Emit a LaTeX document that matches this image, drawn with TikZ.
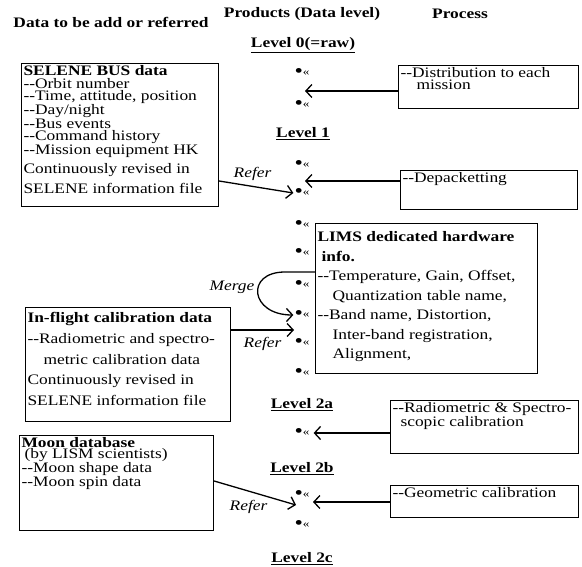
\documentclass[tikz,border=0pt]{standalone}
\usepackage{fontspec}
\setmainfont{Liberation Serif}[FakeStretch=1.2,Ligatures=TeXOff]
\usepackage{tikz}
\usetikzlibrary{arrows.meta,positioning}
\newcommand{\lvdot}{{\fontsize{20}{20}\selectfont•}\raisebox{2pt}{\fontsize{11}{11}\selectfont«}}
\newcommand{\boxtext}[3]{\parbox[t][#2][t]{#1}{\raggedright #3}}

\begin{document}
\begin{tikzpicture}[x=1pt,y=-1pt,line width=1.3pt,
  >={Straight Barb[length=6pt,width=13pt]},
  every node/.style={font=\fontsize{14.5}{19.5}\selectfont},
  box/.style={draw,line width=1.1pt,anchor=north west,inner sep=2pt},
  lv/.style={inner sep=0.5pt},
  level/.style={font=\fontsize{14.5}{19.5}\selectfont\bfseries},
  refer/.style={font=\fontsize{14.5}{19.5}\selectfont\itshape}]
\useasboundingbox (0,0) rectangle (582,567);

% headings
\node[level] (hdata) at (111,22) {Data to be add or referred};
\node[level] (hprod) at (302,14) {Products (Data level)};
\node[level] (hproc) at (460,14) {Process};

% data levels
\node[level] (l0) at (303,45) {\underline{Level 0(=raw)}};
\node[lv] (d0a) at (302,73) {\lvdot};
\node[lv] (d0b) at (302,105) {\lvdot};
\coordinate (t0) at (305,91);

\node[level] (l1) at (303,134) {\underline{Level 1}};
\node[lv] (d1a) at (302,165) {\lvdot};
\node[lv] (d1b) at (302,193) {\lvdot};
\coordinate (t1) at (305,181);

\node[lv] (d2a) at (302,225) {\lvdot};
\node[lv] (d2b) at (302,253) {\lvdot};
\node[lv] (d2c) at (302,285) {\lvdot};
\node[lv] (d2d) at (302,315) {\lvdot};
\node[lv] (d2e) at (302,343) {\lvdot};
\node[lv] (d2f) at (302,373) {\lvdot};
\coordinate (t2) at (294,330);

\node[level] (l2a) at (302,405) {\underline{Level 2a}};
\node[lv] (d3) at (302,433) {\lvdot};

\node[level] (l2b) at (302,469) {\underline{Level 2b}};
\node[lv] (d4a) at (302,495) {\lvdot};
\node[lv] (d4b) at (302,525) {\lvdot};
\coordinate (t4) at (296,505);
\coordinate (t5) at (313,502);

\node[level] (l2c) at (302,559) {\underline{Level 2c}};

% data to be added
\node[box] (selene) at (21,63) {\boxtext{193pt}{139pt}{%
  \setlength{\baselineskip}{12.4pt}\textbf{SELENE BUS data}\par
  --Orbit number\par
  --Time, attitude, position\par
  --Day/night\par
  --Bus events\par
  --Command history\par
  --Mission equipment HK\par
  \setlength{\baselineskip}{19.5pt}Continuously revised in\par
  SELENE information file}};
\node[box] (flight) at (25,307) {\boxtext{201pt}{110pt}{%
  \vspace*{3pt}\setlength{\baselineskip}{20.7pt}\textbf{In-flight calibration data}\par
  --Radiometric and spectro-\par
  \hspace*{16pt}metric calibration data\par
  Continuously revised in\par
  SELENE information file}};
\node[box] (moon) at (19,435) {\boxtext{190pt}{91pt}{%
  \setlength{\baselineskip}{10.5pt}\textbf{Moon database}\par
  \hspace*{3pt}(by LISM scientists)\par
  --Moon shape data\par
  --Moon spin data}};

% process
\node[box] (dist) at (398,65) {\boxtext{176pt}{39pt}{%
  \setlength{\baselineskip}{12pt}--Distribution to each\par
  \hspace*{16pt}mission}};
\node[box] (depack) at (400,170) {\boxtext{173pt}{35pt}{--Depacketting}};
\node[box] (lims) at (315,223) {\boxtext{218pt}{146pt}{%
  \vspace*{6pt}\setlength{\baselineskip}{19.5pt}\textbf{LIMS dedicated hardware}\par
  \hspace*{4pt}\textbf{info.}\par
  --Temperature, Gain, Offset,\par
  \hspace*{15pt}Quantization table name,\par
  --Band name, Distortion,\par
  \hspace*{15pt}Inter-band registration,\par
  \hspace*{15pt}Alignment,}};
\node[box] (radio) at (390,400) {\boxtext{184pt}{49pt}{%
  \setlength{\baselineskip}{10.5pt}--Radiometric \& Spectro-\par
  \hspace*{8pt}scopic calibration}};
\node[box] (geom) at (390,485) {\boxtext{184pt}{28pt}{--Geometric calibration}};

\coordinate (r0) at (218,181);
\coordinate (r2) at (230,330);
\coordinate (r4) at (213,481);
\coordinate (m0) at (315,272);
\coordinate (m1) at (285,272);

% connectors
\draw[->] (t0 -| dist.west) -- (t0);
\draw[->] (t1 -| depack.west) -- (t1);
\draw[->] (selene.east |- r0) -- node[refer,above=2pt,pos=0.45] (ref1) {Refer} (d1b.west);
\draw[->] (lims.west |- m0) -- (m1) .. controls (245,272) and (250,315) .. (d2d.west);
\node[refer] (merge) at (232,287) {Merge};
\draw[->] (flight.east |- r2) -- node[refer,below=3pt] (ref2) {Refer} (t2);
\draw[->, shorten >=3pt] (radio.west |- d3) -- (d3.east);
\draw[->] (moon.east |- r4) -- node[refer,below=5pt,pos=0.42] (ref4) {Refer} (t4);
\draw[->] (t5 -| geom.west) -- (t5);
\end{tikzpicture}
\end{document}
